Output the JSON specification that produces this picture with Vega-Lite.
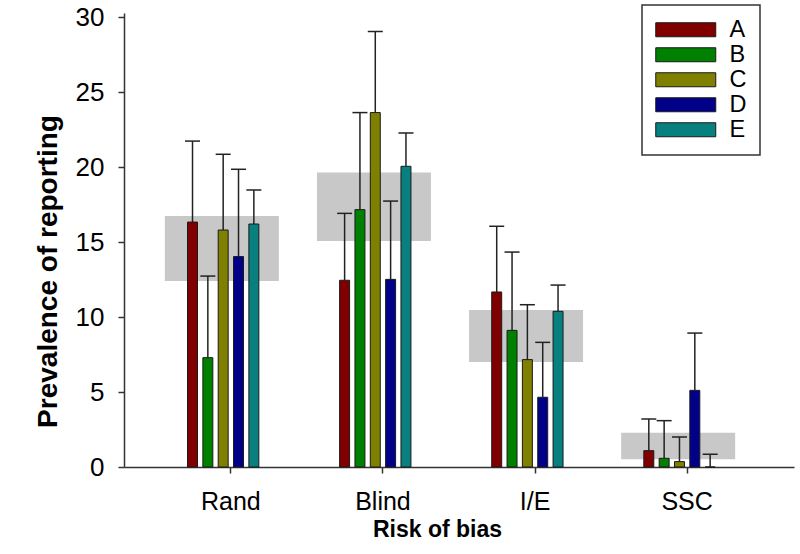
{
  "$schema": "https://vega.github.io/schema/vega-lite/v6.json",
  "width": 670,
  "height": 454,
  "autosize": {"type": "none"},
  "padding": {"left": 124, "top": 13, "right": 6, "bottom": 87},
  "background": "white",
  "config": {
    "font": "Liberation Sans",
    "view": {"stroke": null},
    "axis": {"grid": false, "domainColor": "#333333", "domainWidth": 1.5, "tickColor": "#333333", "tickWidth": 1.5, "labelColor": "#000000", "titleColor": "#000000", "labelFont": "Liberation Sans", "titleFont": "Liberation Sans"},
    "legend": {"strokeColor": "#333333", "strokeWidth": 1.5, "fillColor": "white"}
  },
  "datasets": {
    "bars": [
      {"group": "Rand", "series": "A", "value": 16.33, "upper": 21.73},
      {"group": "Rand", "series": "B", "value": 7.29, "upper": 12.73},
      {"group": "Rand", "series": "C", "value": 15.8, "upper": 20.85},
      {"group": "Rand", "series": "D", "value": 14.03, "upper": 19.85},
      {"group": "Rand", "series": "E", "value": 16.2, "upper": 18.47},
      {"group": "Blind", "series": "A", "value": 12.45, "upper": 16.91},
      {"group": "Blind", "series": "B", "value": 17.16, "upper": 23.63},
      {"group": "Blind", "series": "C", "value": 23.63, "upper": 29.03},
      {"group": "Blind", "series": "D", "value": 12.51, "upper": 17.73},
      {"group": "Blind", "series": "E", "value": 20.05, "upper": 22.27},
      {"group": "I/E", "series": "A", "value": 11.67, "upper": 16.05},
      {"group": "I/E", "series": "B", "value": 9.11, "upper": 14.33},
      {"group": "I/E", "series": "C", "value": 7.16, "upper": 10.82},
      {"group": "I/E", "series": "D", "value": 4.65, "upper": 8.31},
      {"group": "I/E", "series": "E", "value": 10.38, "upper": 12.13},
      {"group": "SSC", "series": "A", "value": 1.09, "upper": 3.2},
      {"group": "SSC", "series": "B", "value": 0.58, "upper": 3.09},
      {"group": "SSC", "series": "C", "value": 0.36, "upper": 2.0},
      {"group": "SSC", "series": "D", "value": 5.11, "upper": 8.93},
      {"group": "SSC", "series": "E", "value": 0, "upper": 0.85}
    ],
    "bands": [
      {"group": "Rand", "lo": 12.4, "hi": 16.73},
      {"group": "Blind", "lo": 15.07, "hi": 19.63},
      {"group": "I/E", "lo": 7.0, "hi": 10.47},
      {"group": "SSC", "lo": 0.51, "hi": 2.29}
    ]
  },
  "encoding": {
    "x": {
      "field": "group", "type": "nominal",
      "sort": ["Rand", "Blind", "I/E", "SSC"],
      "scale": {"domain": ["Rand", "Blind", "I/E", "SSC"], "paddingInner": 0.395, "paddingOuter": 0.4},
      "axis": {
        "title": "Risk of bias", "labelAngle": 0, "labelFontSize": 25, "labelPadding": 16, "tickSize": 6,
        "titleFontSize": 23, "titleFontWeight": "bold", "titleX": 313, "titleY": 69, "titleBaseline": "alphabetic", "titleAnchor": "middle", "titleAlign": "center"
      }
    }
  },
  "layer": [
    {
      "data": {"name": "bands"},
      "mark": {"type": "bar", "color": "#c8c8c8", "width": 114, "xOffset": -9},
      "encoding": {
        "y": {"field": "lo", "type": "quantitative"},
        "y2": {"field": "hi"}
      }
    },
    {
      "data": {"name": "bars"},
      "mark": {"type": "rule", "color": "#222222", "strokeWidth": 1.5},
      "encoding": {
        "xOffset": {"field": "series", "type": "nominal", "scale": {"domain": ["A", "B", "C", "D", "E", "F"], "paddingInner": 0.35, "paddingOuter": 0.175}},
        "y": {"field": "value", "type": "quantitative"},
        "y2": {"field": "upper"}
      }
    },
    {
      "data": {"name": "bars"},
      "mark": {"type": "tick", "color": "#222222", "thickness": 1.5, "size": 15, "opacity": 1},
      "encoding": {
        "xOffset": {"field": "series", "type": "nominal"},
        "y": {"field": "upper", "type": "quantitative"}
      }
    },
    {
      "data": {"name": "bars"},
      "mark": {"type": "bar", "stroke": "#1a1a1a", "strokeWidth": 1, "opacity": 1},
      "encoding": {
        "xOffset": {"field": "series", "type": "nominal"},
        "y": {
          "field": "value", "type": "quantitative",
          "scale": {"domain": [0, 30.27], "nice": false},
          "axis": {
            "title": "Prevalence of reporting", "values": [0, 5, 10, 15, 20, 25, 30], "labelFontSize": 26, "labelPadding": 14, "tickSize": 6,
            "titleFontSize": 28, "titleFontWeight": "bold", "titleAngle": -90, "titleX": -62, "titleY": 258, "titleBaseline": "bottom", "titleAlign": "center"
          }
        },
        "color": {
          "field": "series", "type": "nominal",
          "scale": {"domain": ["A", "B", "C", "D", "E"], "range": ["#800000", "#008000", "#808000", "#000088", "#088080"]},
          "legend": {
            "title": null, "orient": "none", "legendX": 518, "legendY": -8,
            "symbolType": "M-4.2857,-1H4.2857V1H-4.2857Z", "symbolSize": 196, "symbolStrokeColor": "#1a1a1a", "symbolStrokeWidth": 1, "symbolOpacity": 1, "symbolOffset": 19,
            "labelFontSize": 23.5, "labelOffset": 32, "rowPadding": 0, "padding": 13,
            "labelColor": "#000000"
          }
        }
      }
    }
  ]
}
